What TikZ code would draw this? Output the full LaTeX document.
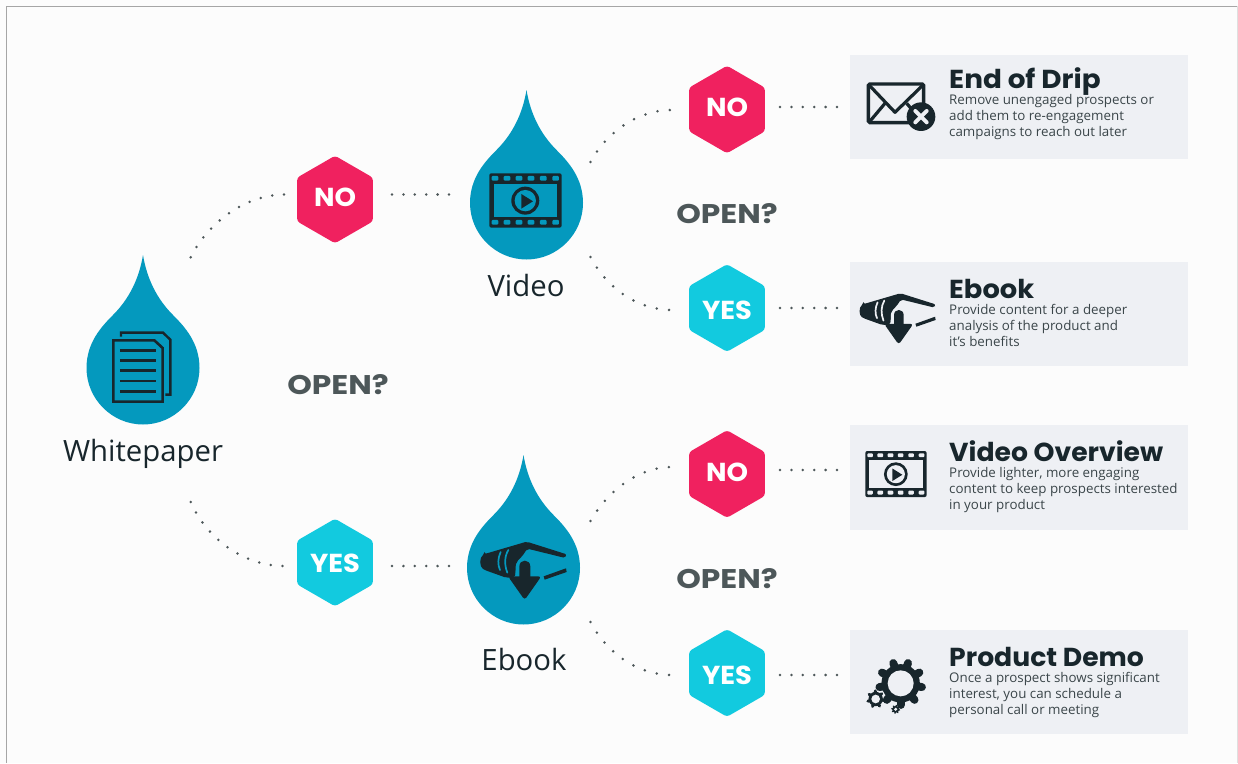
\documentclass[tikz,border=0pt]{standalone}
\usepackage{fontspec}
\setmainfont{Open Sans}
\newfontfamily\headfont{Poppins}[BoldFont={Poppins Bold},FakeStretch=1.05]
\newfontfamily\headfontn{Poppins}[BoldFont={Poppins Bold},FakeStretch=1.025]
\newfontfamily\headfontw{Poppins}[BoldFont={Poppins Bold},FakeStretch=1.07]
\newfontfamily\openfont{Poppins}[BoldFont={Poppins Bold},FakeStretch=1.16]
\usetikzlibrary{shapes.geometric,calc}
\definecolor{teal}{HTML}{0499BE}
\definecolor{dark}{HTML}{18262C}
\definecolor{pinkc}{HTML}{F0215F}
\definecolor{cyanc}{HTML}{12CADF}
\definecolor{panelc}{HTML}{EEF0F4}
\definecolor{grayc}{HTML}{4D5759}
\definecolor{bodyc}{HTML}{3A4549}
\tikzset{
  hexbase/.style={regular polygon,regular polygon sides=6,shape border rotate=30,minimum size=87.5pt,inner sep=0pt,outer sep=0pt,rounded corners=3pt},
  hexno/.style={hexbase,fill=pinkc},
  hexyes/.style={hexbase,fill=cyanc},
  hextxt/.style={inner sep=0pt,text=white,font=\headfont\bfseries\fontsize{26}{26}\selectfont},
  dots/.style={draw=grayc,line width=2.8pt,line cap=round,dash pattern=on 0pt off 11.4pt},
  dotsleft/.style={dots,dash pattern=on 0pt off 11.8pt},
  dotsright/.style={dots,dash pattern=on 0pt off 12.4pt},
  panel/.style={fill=panelc,draw=none,minimum width=338pt,minimum height=104pt,inner sep=0pt,outer sep=0pt},
  title/.style={anchor=base west,inner sep=0pt,text=dark,font=\headfont\bfseries\fontsize{26}{26}\selectfont},
  desc/.style={anchor=north west,inner sep=0pt,align=left,text=bodyc,font=\fontsize{13.35}{16}\selectfont},
  droplabel/.style={anchor=base,inner sep=0pt,text=dark,font=\fontsize{29.3}{30}\selectfont},
  openq/.style={anchor=base,inner sep=0pt,text=grayc,font=\openfont\bfseries\fontsize{27}{27}\selectfont},
  dropbody/.style={circle,minimum size=113pt,inner sep=0pt,outer sep=0pt},
  drop/.pic={\fill[teal] (0,-113) .. controls (-4,-89) and (-14,-69) .. (-30,-53) .. controls (-42,-41) and (-56.5,-25) .. (-56.5,0) .. controls (-56.5,31) and (-31,56.5) .. (0,56.5) .. controls (31,56.5) and (56.5,31) .. (56.5,0) .. controls (56.5,-25) and (42,-41) .. (30,-53) .. controls (14,-69) and (4,-89) .. (0,-113) -- cycle;},
  film/.pic={
    \fill[dark,rounded corners=2pt] (0,0) rectangle (217,163);
    \fill[#1] (13,31) rectangle (204,132);
    \foreach \hx in {17,53,89,125,162,199}{
      \fill[#1,rounded corners=1pt] (\hx-10,8) rectangle (\hx+10,22);
      \fill[#1,rounded corners=1pt] (\hx-10,140) rectangle (\hx+10,154);
    }
    \fill[dark] (108,82) circle (42);
    \fill[#1] (108,82) circle (32);
    \fill[dark] (96,62) -- (131,84) -- (96,106) -- cycle;
  },
  hand/.pic={
    \fill[dark,rounded corners=2pt] (104,312) -- (230,275) -- (350,313) -- (346,324) -- (232,296) -- (217,318) -- (200,335) -- (195,382) -- (168,383) -- (104,360) .. controls (88,350) and (88,322) .. (104,312) -- cycle;
    \draw[#1,line width=1.7pt,line cap=round] (152,306) .. controls (143,325) and (143,345) .. (150,360);
    \draw[#1,line width=1.7pt,line cap=round] (175,300) .. controls (163,320) and (163,345) .. (172,368);
    \fill[#1] (197,384) -- (197,350) .. controls (197,322) and (250,322) .. (250,350) -- (250,384) -- cycle;
    \fill[dark] (208,385) -- (208,350) .. controls (208,326) and (241,326) .. (241,350) -- (241,385) -- cycle;
    \fill[dark,rounded corners=3pt] (174,379) -- (274,379) -- (224,450) -- cycle;
    \fill[dark] (281,379) -- (348,355) -- (350,366) -- (284,389) -- cycle;
  },
}
\newcommand{\gearpic}[5]{% x y radius hole teeth
  \fill[dark] (#1,#2) circle (#3*0.8);
  \foreach \ga in {1,...,#5}{
    \draw[dark,line width=#3*0.11pt,line cap=round] (#1,#2) -- ($(#1,#2)+({360/#5*\ga+10}:#3*0.9)$);
  }
  \fill[panelc] (#1,#2) circle (#4);
}
\begin{document}
\begin{tikzpicture}[x=1pt,y=-1pt]
\useasboundingbox (0,0) rectangle (1238,763);
\fill[white!99!black] (0,0) rectangle (1238,763);
\draw[gray!70,line width=1pt] (6,763) -- (6,6) -- (1237,6);
\draw[gray!25,line width=1pt] (1237,6) -- (1237,763);

% panels
\node[panel] (p1) at (1019,107) {};
\node[panel] (p2) at (1019,314) {};
\node[panel,minimum height=105pt] (p3) at (1019,477.5) {};
\node[panel] (p4) at (1019,682) {};

% drops
\node[dropbody] (dw) at (143,368) {};
\node[dropbody] (dv) at (526.5,203) {};
\node[dropbody] (de) at (523.5,568) {};
\pic at (dw.center) {drop};
\pic at (dv.center) {drop};
\pic at (de.center) {drop};

\node[droplabel] (lw) at (143,461) {Whitepaper};
\node[droplabel] (lv) at (526,296) {Video};
\node[droplabel] (le) at (524,670) {Ebook};

% hexes
\node[hexno,label={[hextxt,yshift=2.5pt]center:NO}] (h1) at (335,199.5) {};
\node[hexyes,label={[hextxt,yshift=-1pt]center:YES}] (h2) at (335,562.5) {};
\node[hexno,label={[hextxt,yshift=2.5pt]center:NO}] (h3) at (727,109.5) {};
\node[hexyes,label={[hextxt,yshift=-2pt]center:YES}] (h4) at (727,308) {};
\node[hexno,label={[hextxt,yshift=2pt]center:NO}] (h5) at (727,474) {};
\node[hexyes,label={[hextxt,yshift=-2pt]center:YES}] (h6) at (727,673) {};

% open labels
\node[openq] (o1) at (338,394) {OPEN?};
\node[openq] (o2) at (727,223) {OPEN?};
\node[openq] (o3) at (727,588) {OPEN?};

% connectors
\draw[dotsleft] ($(dw.center)+(47.7,-110.7)$) .. controls (205,228) and (240,195) .. ($(h1.center)+(-50,-5)$);
\draw[dots] ($(h1.center)+(57,-5)$) -- ($(dv.center)+(-76,-8.5)$);
\draw[dotsleft] ($(dw.center)+(47.7,134)$) .. controls (205,535) and (240,566) .. ($(h2.center)+(-50,3.5)$);
\draw[dots] ($(h2.center)+(57,3.5)$) -- ($(de.center)+(-73.5,-2)$);
\draw[dotsright] ($(dv.center)+(64,-41)$) .. controls (605,135) and (635,110) .. ($(h3.center)+(-55,0.5)$);
\draw[dots] ($(h3.center)+(53,-2.5)$) -- ($(p1.west)+(-9,0)$);
\draw[dotsright] ($(dv.center)+(64,54)$) .. controls (605,285) and (635,310) .. ($(h4.center)+(-55,2)$);
\draw[dots] ($(h4.center)+(53,0)$) -- ($(p2.west)+(-9,-6)$);
\draw[dotsright] ($(de.center)+(67,-47)$) .. controls (605,495) and (635,467) .. ($(h5.center)+(-55,-7)$);
\draw[dots] ($(h5.center)+(53,-4)$) -- ($(p3.west)+(-9,-7.5)$);
\draw[dotsright] ($(de.center)+(67,54)$) .. controls (605,650) and (635,675) .. ($(h6.center)+(-55,2)$);
\draw[dots] ($(h6.center)+(53,2)$) -- ($(p4.west)+(-9,-7)$);

% titles and text
\node[title,font=\headfontw\bfseries\fontsize{26}{26}\selectfont] (t1) at (949,88) {End of Drip};
\node[desc] (d1) at (949,94) {Remove unengaged prospects or\\add them to re-engagement\\campaigns to reach out later};
\node[title] (t2) at (949,298) {Ebook};
\node[desc] (d2) at (949,304) {Provide content for a deeper\\analysis of the product and\\it’s benefits};
\node[title,font=\headfontn\bfseries\fontsize{26}{26}\selectfont] (t3) at (949,461) {Video Overview};
\node[desc] (d3) at (949,467) {Provide lighter, more engaging\\content to keep prospects interested\\in your product};
\node[title,font=\headfontn\bfseries\fontsize{26}{26}\selectfont] (t4) at (949,666) {Product Demo};
\node[desc] (d4) at (949,672) {Once a prospect shows significant\\interest, you can schedule a\\personal call or meeting};

% document icon
\begin{scope}[shift={(60,240)},x=0.3333pt,y=-0.3333pt]
  \draw[dark,line width=2.6pt,line join=miter] (160,301) -- (283,301) -- (308,324) -- (308,485) -- (160,485) -- cycle;
  \draw[dark,line width=2.4pt] (183,290) -- (183,278) -- (309,278) -- (331,299) -- (331,464) -- (316,464);
  \foreach \ly in {331,361,391,423,454}{
    \draw[dark,line width=2.4pt] (180,\ly) -- (288,\ly);
  }
\end{scope}

% film icons
\begin{scope}[shift={(489.3,173.3)},x=0.3333pt,y=-0.3333pt]
  \pic {film=teal};
\end{scope}
\begin{scope}[shift={(865.3,451)},x=0.2827pt,y=-0.2827pt]
  \pic {film=panelc};
\end{scope}

% hand icons
\begin{scope}[shift={(450,450)},x=0.3333pt,y=-0.3333pt]
  \pic {hand=teal};
\end{scope}
\begin{scope}[shift={(833,212.6)},x=0.2933pt,y=-0.2933pt]
  \pic {hand=panelc};
\end{scope}

% envelope icon
\begin{scope}[shift={(850,50)},x=0.3333pt,y=-0.3333pt]
  \draw[dark,line width=3.4pt,rounded corners=1.5pt] (55,102) rectangle (221,218);
  \draw[dark,line width=3.2pt,line join=round] (58,106) -- (135,187) -- (218,106);
  \draw[dark,line width=3.2pt] (58,216) -- (105,160);
  \draw[dark,line width=3.2pt] (218,216) -- (170,160);
  \fill[dark] (213,200) circle (43);
  \draw[panelc,line width=4pt,line cap=round] (196,183) -- (230,217);
  \draw[panelc,line width=4pt,line cap=round] (230,183) -- (196,217);
\end{scope}

% gears
\begin{scope}[shift={(850,630)},x=0.3333pt,y=-0.3333pt]
  \gearpic{152}{160}{72}{39}{9}
  \gearpic{77}{207}{27}{13}{7}
  \gearpic{137}{238}{13}{5}{8}
\end{scope}
\end{tikzpicture}
\end{document}
